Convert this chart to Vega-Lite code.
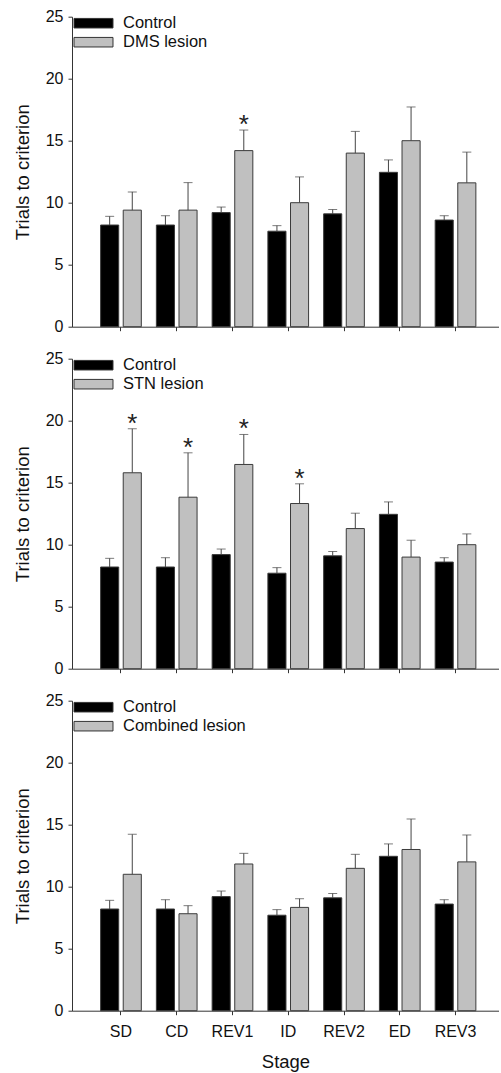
{
  "$schema": "https://vega.github.io/schema/vega-lite/v6.json",
  "padding": {"left": 13, "top": 8.7, "right": 0, "bottom": 0},
  "background": "white",
  "config": {
    "font": "Liberation Sans",
    "view": {"stroke": null},
    "axis": {"domainColor": "#333", "tickColor": "#333", "labelColor": "#111", "titleColor": "#111", "grid": false, "labelFont": "Liberation Sans", "titleFont": "Liberation Sans", "titleFontWeight": "normal", "labelFontSize": 16, "titleFontSize": 18.5, "tickSize": 4},
    "legend": {"labelFont": "Liberation Sans", "labelFontSize": 16.5, "labelColor": "#111", "rowPadding": 0, "padding": 0, "symbolType": "M-2,-0.49H2V0.49H-2Z", "symbolSize": 380, "symbolStrokeColor": "#333", "symbolStrokeWidth": 1, "labelOffset": 19, "symbolOffset": 0}
  },
  "datasets": {
    "dms": [
      {"stage": "SD", "group": "Control", "mean": 8.2, "upper": 8.9, "sig": false},
      {"stage": "CD", "group": "Control", "mean": 8.2, "upper": 8.95, "sig": false},
      {"stage": "REV1", "group": "Control", "mean": 9.2, "upper": 9.65, "sig": false},
      {"stage": "ID", "group": "Control", "mean": 7.7, "upper": 8.15, "sig": false},
      {"stage": "REV2", "group": "Control", "mean": 9.1, "upper": 9.45, "sig": false},
      {"stage": "ED", "group": "Control", "mean": 12.45, "upper": 13.45, "sig": false},
      {"stage": "REV3", "group": "Control", "mean": 8.6, "upper": 8.95, "sig": false},
      {"stage": "SD", "group": "DMS lesion", "mean": 9.4, "upper": 10.87, "sig": false},
      {"stage": "CD", "group": "DMS lesion", "mean": 9.4, "upper": 11.62, "sig": false},
      {"stage": "REV1", "group": "DMS lesion", "mean": 14.2, "upper": 15.86, "sig": true},
      {"stage": "ID", "group": "DMS lesion", "mean": 10.0, "upper": 12.08, "sig": false},
      {"stage": "REV2", "group": "DMS lesion", "mean": 14.0, "upper": 15.75, "sig": false},
      {"stage": "ED", "group": "DMS lesion", "mean": 15.0, "upper": 17.72, "sig": false},
      {"stage": "REV3", "group": "DMS lesion", "mean": 11.6, "upper": 14.08, "sig": false}
    ],
    "stn": [
      {"stage": "SD", "group": "Control", "mean": 8.2, "upper": 8.9, "sig": false},
      {"stage": "CD", "group": "Control", "mean": 8.2, "upper": 8.95, "sig": false},
      {"stage": "REV1", "group": "Control", "mean": 9.2, "upper": 9.65, "sig": false},
      {"stage": "ID", "group": "Control", "mean": 7.7, "upper": 8.15, "sig": false},
      {"stage": "REV2", "group": "Control", "mean": 9.1, "upper": 9.45, "sig": false},
      {"stage": "ED", "group": "Control", "mean": 12.45, "upper": 13.45, "sig": false},
      {"stage": "REV3", "group": "Control", "mean": 8.6, "upper": 8.95, "sig": false},
      {"stage": "SD", "group": "STN lesion", "mean": 15.8, "upper": 19.35, "sig": true},
      {"stage": "CD", "group": "STN lesion", "mean": 13.83, "upper": 17.41, "sig": true},
      {"stage": "REV1", "group": "STN lesion", "mean": 16.47, "upper": 18.89, "sig": true},
      {"stage": "ID", "group": "STN lesion", "mean": 13.32, "upper": 14.91, "sig": true},
      {"stage": "REV2", "group": "STN lesion", "mean": 11.3, "upper": 12.54, "sig": false},
      {"stage": "ED", "group": "STN lesion", "mean": 9.0, "upper": 10.36, "sig": false},
      {"stage": "REV3", "group": "STN lesion", "mean": 10.0, "upper": 10.87, "sig": false}
    ],
    "comb": [
      {"stage": "SD", "group": "Control", "mean": 8.2, "upper": 8.9, "sig": false},
      {"stage": "CD", "group": "Control", "mean": 8.2, "upper": 8.95, "sig": false},
      {"stage": "REV1", "group": "Control", "mean": 9.2, "upper": 9.65, "sig": false},
      {"stage": "ID", "group": "Control", "mean": 7.7, "upper": 8.15, "sig": false},
      {"stage": "REV2", "group": "Control", "mean": 9.1, "upper": 9.45, "sig": false},
      {"stage": "ED", "group": "Control", "mean": 12.45, "upper": 13.45, "sig": false},
      {"stage": "REV3", "group": "Control", "mean": 8.6, "upper": 8.95, "sig": false},
      {"stage": "SD", "group": "Combined lesion", "mean": 11.0, "upper": 14.22, "sig": false},
      {"stage": "CD", "group": "Combined lesion", "mean": 7.82, "upper": 8.47, "sig": false},
      {"stage": "REV1", "group": "Combined lesion", "mean": 11.83, "upper": 12.69, "sig": false},
      {"stage": "ID", "group": "Combined lesion", "mean": 8.33, "upper": 9.03, "sig": false},
      {"stage": "REV2", "group": "Combined lesion", "mean": 11.48, "upper": 12.61, "sig": false},
      {"stage": "ED", "group": "Combined lesion", "mean": 13.0, "upper": 15.46, "sig": false},
      {"stage": "REV3", "group": "Combined lesion", "mean": 12.0, "upper": 14.17, "sig": false}
    ]
  },
  "spacing": 16,
  "resolve": {"scale": {"color": "independent", "xOffset": "independent"}, "legend": {"color": "independent"}},
  "vconcat": [
    {
      "width": 427, "height": 310,
      "data": {"name": "dms"},
      "encoding": {
        "x": {"field": "stage", "type": "nominal", "sort": ["SD","CD","REV1","ID","REV2","ED","REV3"], "scale": {"paddingInner": 0.27, "paddingOuter": 0.464, "align": 0.553}, "axis": {"labels": false, "title": null}},
        "xOffset": {"field": "group", "type": "nominal", "scale": {"domain": ["Control", "DMS lesion"], "paddingInner": 0.2, "paddingOuter": 0}}
      },
      "layer": [
        {
          "mark": {"type": "bar", "stroke": "#3a3a3a", "strokeWidth": 1},
          "encoding": {
            "y": {"field": "mean", "type": "quantitative", "scale": {"domain": [0, 25], "nice": false}, "axis": {"values": [0,5,10,15,20,25], "title": "Trials to criterion", "labelPadding": 5, "titlePadding": 13}},
            "color": {"field": "group", "type": "nominal", "scale": {"domain": ["Control", "DMS lesion"], "range": ["#000000", "#c0c0c0"]},
              "legend": {"title": null, "orient": "none", "legendX": 11, "legendY": -4}}
          }
        },
        {
          "mark": {"type": "rule", "color": "#444", "strokeWidth": 1},
          "encoding": {"y": {"field": "mean", "type": "quantitative"}, "y2": {"field": "upper"}}
        },
        {
          "mark": {"type": "tick", "color": "#444", "size": 9, "thickness": 1},
          "encoding": {"y": {"field": "upper", "type": "quantitative"}}
        },
        {
          "transform": [{"filter": "datum.sig"}],
          "mark": {"type": "text", "text": "*", "fontSize": 26, "baseline": "alphabetic", "dy": 3, "color": "#222"},
          "encoding": {"y": {"field": "upper", "type": "quantitative"}}
        }
      ]
    },
    {
      "width": 427, "height": 310,
      "data": {"name": "stn"},
      "encoding": {
        "x": {"field": "stage", "type": "nominal", "sort": ["SD","CD","REV1","ID","REV2","ED","REV3"], "scale": {"paddingInner": 0.27, "paddingOuter": 0.464, "align": 0.553}, "axis": {"labels": false, "title": null}},
        "xOffset": {"field": "group", "type": "nominal", "scale": {"domain": ["Control", "STN lesion"], "paddingInner": 0.2, "paddingOuter": 0}}
      },
      "layer": [
        {
          "mark": {"type": "bar", "stroke": "#3a3a3a", "strokeWidth": 1},
          "encoding": {
            "y": {"field": "mean", "type": "quantitative", "scale": {"domain": [0, 25], "nice": false}, "axis": {"values": [0,5,10,15,20,25], "title": "Trials to criterion", "labelPadding": 5, "titlePadding": 13}},
            "color": {"field": "group", "type": "nominal", "scale": {"domain": ["Control", "STN lesion"], "range": ["#000000", "#c0c0c0"]},
              "legend": {"title": null, "orient": "none", "legendX": 11, "legendY": -4}}
          }
        },
        {
          "mark": {"type": "rule", "color": "#444", "strokeWidth": 1},
          "encoding": {"y": {"field": "mean", "type": "quantitative"}, "y2": {"field": "upper"}}
        },
        {
          "mark": {"type": "tick", "color": "#444", "size": 9, "thickness": 1},
          "encoding": {"y": {"field": "upper", "type": "quantitative"}}
        },
        {
          "transform": [{"filter": "datum.sig"}],
          "mark": {"type": "text", "text": "*", "fontSize": 26, "baseline": "alphabetic", "dy": 3, "color": "#222"},
          "encoding": {"y": {"field": "upper", "type": "quantitative"}}
        }
      ]
    },
    {
      "width": 427, "height": 310,
      "data": {"name": "comb"},
      "encoding": {
        "x": {"field": "stage", "type": "nominal", "sort": ["SD","CD","REV1","ID","REV2","ED","REV3"], "scale": {"paddingInner": 0.27, "paddingOuter": 0.464, "align": 0.553}, "axis": {"title": "Stage", "labelAngle": 0, "labelPadding": 9, "titlePadding": 13}},
        "xOffset": {"field": "group", "type": "nominal", "scale": {"domain": ["Control", "Combined lesion"], "paddingInner": 0.2, "paddingOuter": 0}}
      },
      "layer": [
        {
          "mark": {"type": "bar", "stroke": "#3a3a3a", "strokeWidth": 1},
          "encoding": {
            "y": {"field": "mean", "type": "quantitative", "scale": {"domain": [0, 25], "nice": false}, "axis": {"values": [0,5,10,15,20,25], "title": "Trials to criterion", "labelPadding": 5, "titlePadding": 13}},
            "color": {"field": "group", "type": "nominal", "scale": {"domain": ["Control", "Combined lesion"], "range": ["#000000", "#c0c0c0"]},
              "legend": {"title": null, "orient": "none", "legendX": 11, "legendY": -4}}
          }
        },
        {
          "mark": {"type": "rule", "color": "#444", "strokeWidth": 1},
          "encoding": {"y": {"field": "mean", "type": "quantitative"}, "y2": {"field": "upper"}}
        },
        {
          "mark": {"type": "tick", "color": "#444", "size": 9, "thickness": 1},
          "encoding": {"y": {"field": "upper", "type": "quantitative"}}
        }
      ]
    }
  ]
}
